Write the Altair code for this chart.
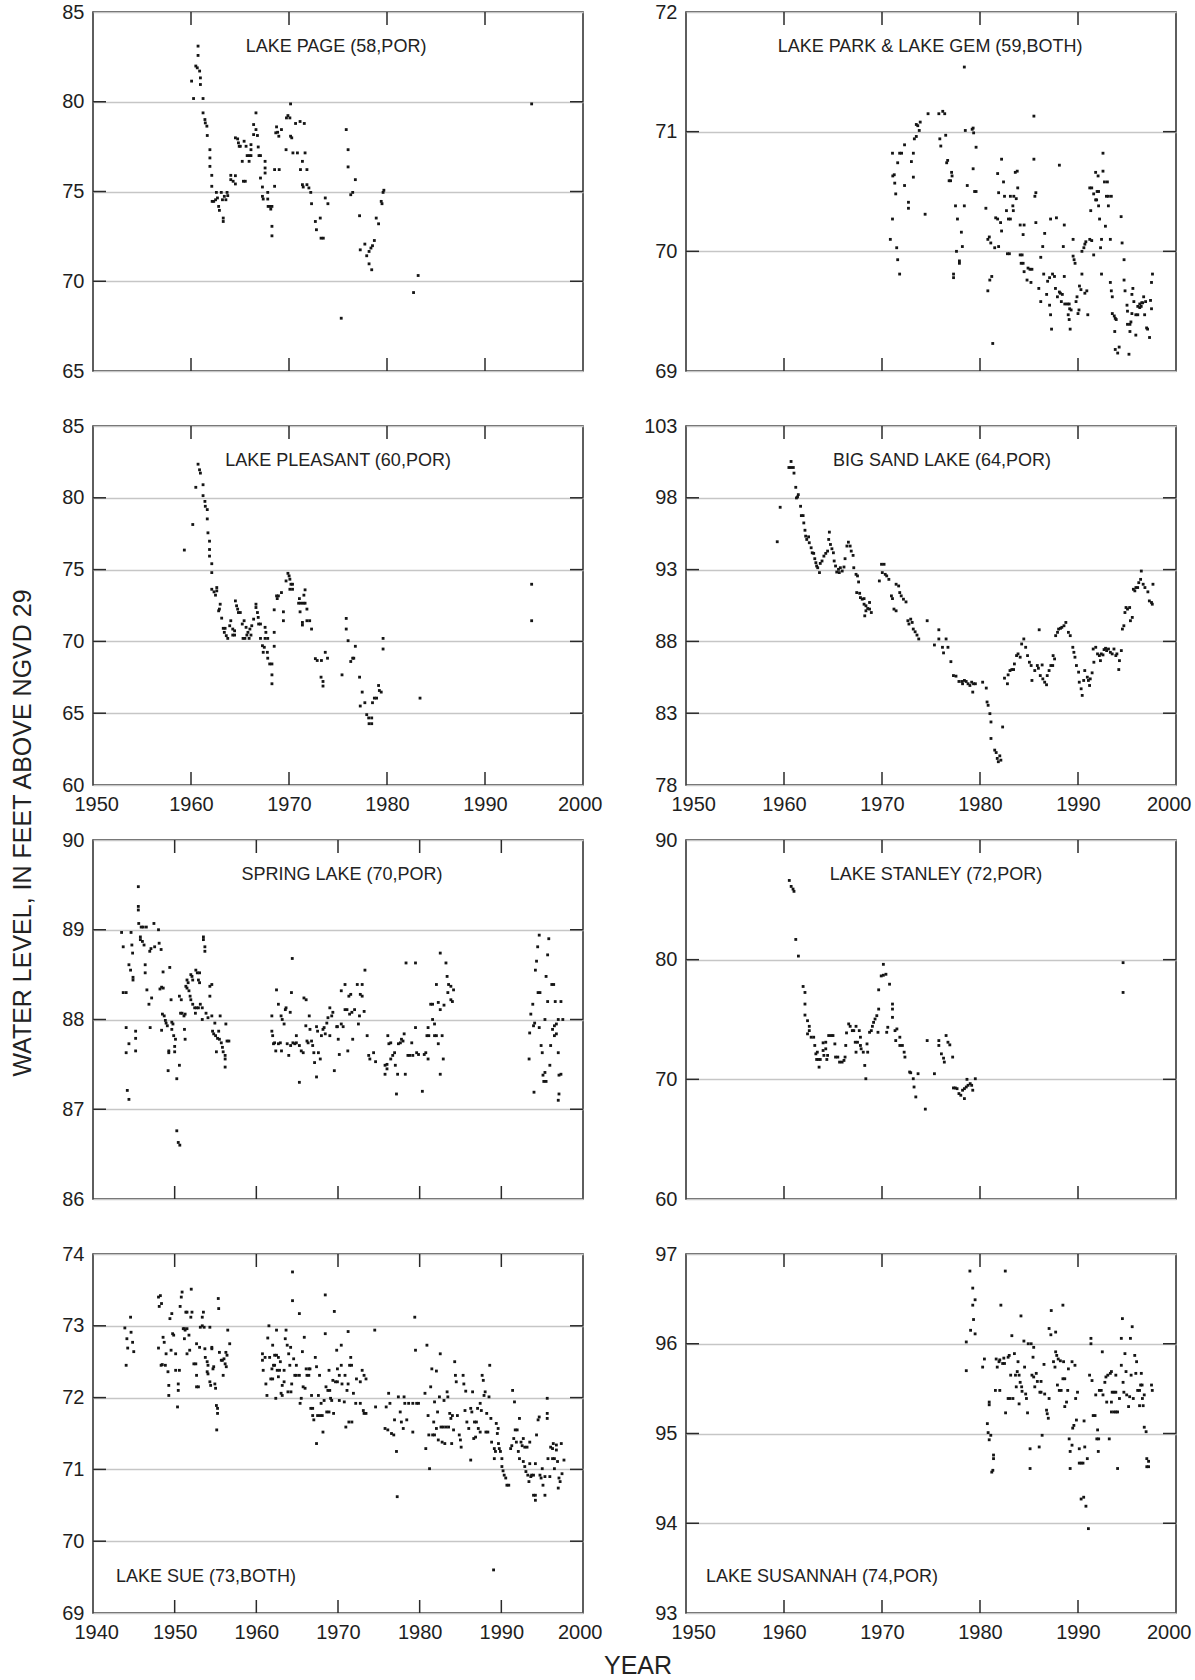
import altair as alt
import pandas as pd

FONT = "Liberation Sans, Arial, Helvetica, sans-serif"

# ---------------- data (year, water level in feet) ----------------
PAGE = [(1960.06,81.15),(1960.26,80.18),(1960.72,83.10),(1960.72,82.58),(1960.49,81.99),(1960.64,81.89),(1960.88,81.71),(1960.96,81.33),(1960.96,80.96),(1961.23,80.18),(1961.23,79.38),(1961.42,79.01),(1961.46,78.82),(1961.62,78.64),(1961.66,78.12),(1961.93,77.33),(1961.93,76.87),(1961.93,76.40),(1962.12,75.90),(1962.12,75.29),(1962.16,74.45),(1962.32,74.45),(1962.51,74.54),(1962.70,74.64),(1962.82,74.17),(1962.90,73.95),(1962.59,74.95),(1963.09,74.95),(1963.29,73.52),(1963.29,73.33),(1963.21,74.54),(1963.40,74.73),(1963.56,74.54),(1963.68,74.95),(1963.75,74.77),(1964.06,75.66),(1964.06,75.90),(1964.30,75.57),(1964.53,75.88),(1964.53,75.42),(1964.53,77.99),(1964.76,77.93),(1964.84,77.71),(1964.92,77.52),(1965.03,77.52),(1965.23,76.68),(1965.35,75.57),(1965.54,75.57),(1965.42,77.80),(1965.62,77.52),(1965.73,77.00),(1965.93,77.00),(1966.12,77.00),(1965.93,76.68),(1966.12,77.61),(1966.12,77.33),(1966.39,78.73),(1966.39,78.17),(1966.63,78.45),(1966.63,79.38),(1966.78,78.12),(1966.86,77.48),(1966.94,77.00),(1967.09,77.00),(1967.09,75.75),(1967.29,75.25),(1967.29,74.73),(1967.37,74.58),(1967.56,76.68),(1967.56,76.31),(1967.56,76.03),(1967.83,74.95),(1967.83,74.58),(1967.87,74.17),(1968.07,74.17),(1968.26,74.17),(1968.14,74.02),(1968.26,73.06),(1968.26,72.53),(1968.53,76.22),(1969.00,76.22),(1968.53,75.29),(1968.65,78.27),(1968.73,78.60),(1968.84,78.30),(1968.96,78.08),(1969.23,78.45),(1969.70,77.33),(1969.74,79.10),(1969.89,79.23),(1970.09,79.10),(1970.16,79.88),(1970.16,78.08),(1970.28,77.99),(1970.40,77.15),(1970.86,77.15),(1970.67,78.79),(1971.13,78.90),(1971.56,78.79),(1971.17,76.22),(1971.37,76.68),(1971.64,77.15),(1971.83,76.22),(1971.37,75.38),(1971.45,75.25),(1971.83,75.38),(1972.03,75.20),(1972.22,74.95),(1972.30,74.32),(1972.69,73.33),(1972.80,72.87),(1973.19,73.52),(1973.27,72.40),(1973.50,72.40),(1973.70,74.64),(1973.97,74.32),(1975.33,67.94),(1975.84,78.45),(1976.03,77.33),(1976.03,76.37),(1976.30,74.82),(1976.50,74.95),(1976.77,75.66),(1977.20,73.65),(1977.27,71.75),(1977.74,72.07),(1977.93,71.42),(1978.17,71.66),(1978.36,71.85),(1978.52,71.98),(1978.71,72.27),(1978.17,70.97),(1978.44,70.64),(1978.90,73.52),(1979.14,73.20),(1979.41,74.45),(1979.49,74.32),(1979.60,74.95),(1979.68,75.07),(1982.71,69.37),(1983.18,70.32),(1994.76,79.88)]

PARK = [(1970.85,70.10),(1971.07,70.27),(1971.07,70.82),(1971.1,70.63),(1971.25,70.64),(1971.3,70.57),(1971.4,70.48),(1971.6,70.74),(1971.5,70.03),(1971.6,69.93),(1971.8,69.81),(1971.8,70.82),(1972.0,70.82),(1972.3,70.55),(1972.3,70.89),(1972.7,70.41),(1972.7,70.36),(1973.0,70.75),(1973.2,70.82),(1973.2,70.62),(1973.3,70.94),(1973.5,70.96),(1973.5,71.06),(1973.65,71.05),(1973.8,71.01),(1973.9,71.08),(1974.4,70.31),(1974.7,71.15),(1975.8,71.15),(1975.9,70.94),(1976.0,70.88),(1976.2,71.17),(1976.4,71.15),(1976.5,70.97),(1976.6,70.74),(1976.7,70.76),(1976.85,70.59),(1977.0,70.59),(1977.1,70.66),(1977.15,70.63),(1977.3,69.81),(1977.3,69.78),(1977.5,70.38),(1977.6,70.00),(1977.7,70.27),(1977.9,69.92),(1977.9,69.90),(1978.1,70.16),(1978.2,70.04),(1978.4,71.54),(1978.4,70.38),(1978.5,71.01),(1978.7,70.55),(1979.2,71.02),(1979.3,71.03),(1979.35,70.99),(1979.3,70.69),(1979.45,70.50),(1979.6,70.50),(1979.6,70.87),(1980.6,70.36),(1980.8,70.10),(1980.95,70.12),(1981.1,70.07),(1980.8,69.67),(1981.0,69.76),(1981.2,69.79),(1981.3,69.23),(1981.5,70.03),(1981.6,70.28),(1981.8,70.27),(1981.8,70.65),(1981.9,70.49),(1981.9,70.04),(1982.1,70.24),(1982.2,70.77),(1982.2,70.17),(1982.4,70.58),(1982.5,70.46),(1982.7,70.34),(1982.8,69.98),(1983.0,69.98),(1982.9,70.27),(1983.1,70.27),(1983.1,70.46),(1983.35,70.38),(1983.4,70.34),(1983.45,70.46),(1983.6,70.66),(1983.8,70.67),(1983.7,70.44),(1983.85,70.53),(1984.1,69.97),(1984.3,69.97),(1984.1,70.22),(1984.5,70.22),(1984.2,69.90),(1984.4,69.90),(1984.4,70.14),(1984.5,69.83),(1984.8,69.76),(1984.9,69.86),(1985.1,69.85),(1985.3,69.85),(1985.2,69.74),(1985.5,70.77),(1985.5,71.13),(1985.6,70.46),(1985.7,70.49),(1985.7,70.24),(1986.0,69.69),(1986.2,69.95),(1986.2,69.58),(1986.4,70.04),(1986.5,69.81),(1986.6,70.15),(1986.8,69.64),(1986.9,69.75),(1987.1,69.78),(1987.1,69.55),(1987.2,69.47),(1987.2,70.27),(1987.3,69.35),(1987.4,69.81),(1987.6,69.79),(1987.7,69.69),(1987.8,70.28),(1987.9,69.62),(1988.1,69.66),(1988.1,70.72),(1988.2,69.65),(1988.4,69.64),(1988.3,69.58),(1988.5,70.04),(1988.6,69.79),(1988.6,70.22),(1988.65,69.56),(1988.9,69.56),(1989.1,69.56),(1989.15,69.52),(1989.0,69.47),(1989.1,69.43),(1989.2,69.35),(1989.3,69.51),(1989.5,70.10),(1989.5,69.96),(1989.6,69.93),(1989.7,69.90),(1989.8,69.58),(1989.9,69.62),(1990.0,69.48),(1990.1,69.51),(1990.15,69.71),(1990.3,69.68),(1990.4,69.81),(1990.4,70.00),(1990.6,70.03),(1990.7,70.06),(1990.8,70.08),(1990.7,69.65),(1990.9,69.67),(1991.0,69.47),(1991.2,70.10),(1991.4,70.09),(1991.2,70.53),(1991.4,70.53),(1991.3,70.34),(1991.6,69.97),(1991.6,70.48),(1991.8,70.43),(1991.9,70.43),(1991.8,70.66),(1992.05,70.63),(1991.95,70.50),(1992.1,70.50),(1992.1,70.38),(1992.2,70.27),(1992.3,70.03),(1992.4,70.10),(1992.4,69.81),(1992.55,70.82),(1992.55,70.67),(1992.7,70.58),(1993.0,70.58),(1992.8,70.21),(1992.9,70.46),(1993.1,70.46),(1993.1,70.38),(1993.3,70.10),(1993.4,70.46),(1993.3,69.74),(1993.4,69.67),(1993.5,69.62),(1993.5,69.48),(1993.7,69.46),(1993.8,69.44),(1993.9,69.43),(1993.75,69.33),(1993.8,69.18),(1994.05,69.15),(1994.2,69.20),(1994.4,70.29),(1994.5,70.07),(1994.7,69.93),(1994.7,69.76),(1994.8,69.67),(1995.0,69.55),(1995.05,69.50),(1995.05,69.39),(1995.3,69.39),(1995.2,69.14),(1995.3,69.33),(1995.4,69.41),(1995.5,69.64),(1995.5,69.48),(1995.6,69.69),(1995.7,69.58),(1995.9,69.47),(1996.1,69.47),(1995.9,69.30),(1996.1,69.54),(1996.3,69.56),(1996.5,69.57),(1996.6,69.57),(1996.3,69.53),(1996.45,69.54),(1996.7,69.62),(1996.8,69.47),(1996.9,69.58),(1997.0,69.36),(1997.1,69.35),(1997.3,69.28),(1997.4,69.59),(1997.5,69.52),(1997.5,69.74),(1997.6,69.81)]

PLEASANT = [(1959.32,76.36),(1960.18,78.14),(1960.49,80.73),(1960.72,82.34),(1960.87,81.95),(1960.96,81.72),(1961.23,80.91),(1961.23,80.15),(1961.42,79.75),(1961.46,79.41),(1961.66,79.18),(1961.66,78.53),(1961.73,77.56),(1961.89,76.98),(1961.89,76.40),(1961.89,75.94),(1962.12,75.41),(1962.12,74.79),(1962.12,73.63),(1962.35,73.45),(1962.50,73.22),(1962.63,73.75),(1962.63,73.52),(1962.82,72.13),(1962.90,72.25),(1962.98,72.59),(1963.13,71.62),(1963.29,70.91),(1963.48,70.91),(1963.40,70.63),(1963.60,70.40),(1963.75,70.21),(1963.95,71.09),(1964.06,71.44),(1964.26,70.86),(1964.26,70.44),(1964.45,70.44),(1964.45,70.74),(1964.53,72.82),(1964.65,72.48),(1964.76,72.25),(1964.84,72.01),(1965.03,72.01),(1965.23,71.21),(1965.31,70.21),(1965.50,70.21),(1965.42,71.44),(1965.62,70.98),(1965.70,70.44),(1965.81,70.63),(1965.93,70.21),(1966.01,70.86),(1966.12,70.44),(1966.20,71.09),(1966.39,71.55),(1966.63,72.59),(1966.63,72.36),(1966.78,72.01),(1966.86,71.67),(1966.90,71.21),(1967.09,71.21),(1967.09,70.21),(1967.29,69.70),(1967.37,69.24),(1967.48,69.59),(1967.56,70.98),(1967.56,70.21),(1967.83,70.21),(1967.64,70.63),(1967.79,69.24),(1967.83,68.83),(1968.03,68.43),(1968.26,68.43),(1968.26,67.67),(1968.26,67.05),(1968.49,72.20),(1968.49,70.63),(1968.49,69.66),(1968.73,73.17),(1968.92,73.17),(1968.80,72.98),(1969.23,73.40),(1969.43,72.06),(1969.43,71.44),(1969.70,74.21),(1969.89,74.74),(1970.01,74.56),(1970.09,74.33),(1970.09,73.63),(1970.36,73.63),(1970.20,73.98),(1970.36,73.98),(1970.98,72.66),(1971.21,72.66),(1971.45,72.66),(1971.64,72.66),(1971.06,72.98),(1971.13,72.06),(1971.37,71.32),(1971.37,71.14),(1971.52,73.22),(1971.64,73.59),(1971.83,72.25),(1971.83,71.44),(1972.11,71.44),(1972.30,70.86),(1972.69,68.80),(1972.88,68.67),(1973.31,68.67),(1973.27,67.51),(1973.47,67.21),(1973.47,66.89),(1973.70,69.24),(1973.93,68.83),(1975.41,67.67),(1975.84,71.60),(1975.84,70.86),(1976.03,70.05),(1976.30,68.60),(1976.50,68.83),(1976.61,68.83),(1976.77,69.66),(1977.20,67.51),(1977.27,65.50),(1977.47,66.47),(1977.74,65.73),(1977.93,64.90),(1978.13,64.67),(1978.44,64.67),(1978.17,64.27),(1978.44,64.27),(1978.52,65.73),(1978.71,66.05),(1978.94,66.05),(1979.14,66.93),(1979.22,66.58),(1979.41,66.47),(1979.60,70.21),(1979.60,69.47),(1983.37,66.05),(1994.76,73.98),(1994.76,71.44)]

BIGSAND = [(1959.31,94.94),(1959.61,97.34),(1960.5,100.11),(1960.7,100.11),(1960.95,100.11),(1960.72,100.53),(1961.02,99.72),(1961.2,98.73),(1961.27,97.99),(1961.38,98.06),(1961.46,98.22),(1961.69,97.41),(1961.77,96.76),(1961.95,96.76),(1962.02,96.25),(1962.14,95.74),(1962.21,95.33),(1962.32,95.10),(1962.51,95.28),(1962.58,94.87),(1962.77,94.52),(1962.88,94.17),(1963.03,94.13),(1963.14,93.76),(1963.25,93.48),(1963.33,93.25),(1963.44,93.13),(1963.62,92.79),(1963.70,93.43),(1963.88,93.60),(1964.07,93.94),(1964.26,94.13),(1964.45,94.29),(1964.56,95.10),(1964.63,95.61),(1964.74,94.75),(1964.89,94.45),(1965.04,94.17),(1965.12,93.60),(1965.26,93.25),(1965.38,92.83),(1965.56,93.02),(1965.64,92.79),(1965.75,93.13),(1965.94,92.90),(1966.12,93.18),(1966.23,93.76),(1966.42,94.64),(1966.57,94.91),(1966.75,94.64),(1966.86,94.29),(1967.05,93.99),(1967.12,93.13),(1967.35,92.67),(1967.50,92.56),(1967.61,92.14),(1967.42,91.40),(1967.72,91.35),(1967.80,91.05),(1967.98,90.94),(1968.17,90.98),(1968.17,90.59),(1968.36,90.48),(1968.36,90.13),(1968.54,90.29),(1968.24,89.78),(1968.73,90.71),(1968.73,90.25),(1968.91,90.01),(1969.73,92.21),(1969.95,93.37),(1970.21,93.37),(1970.03,92.79),(1970.33,92.67),(1970.48,92.56),(1970.70,92.32),(1970.96,91.17),(1971.07,90.98),(1971.22,90.25),(1971.44,90.13),(1971.44,91.98),(1971.70,91.86),(1971.81,91.40),(1971.96,91.17),(1972.19,90.94),(1972.45,90.75),(1972.64,89.44),(1972.75,89.21),(1972.93,89.55),(1973.08,89.32),(1973.19,88.86),(1973.38,88.67),(1973.57,88.44),(1973.75,88.17),(1974.61,89.44),(1975.35,87.75),(1975.80,88.81),(1975.80,88.17),(1976.17,87.59),(1976.28,87.20),(1976.54,88.17),(1976.73,87.59),(1977.03,86.59),(1977.29,85.62),(1977.55,85.58),(1977.85,85.21),(1978.14,85.21),(1978.22,85.05),(1978.41,85.28),(1978.59,85.21),(1978.78,85.05),(1978.97,84.93),(1979.15,85.16),(1979.26,84.47),(1979.34,85.05),(1979.53,85.05),(1980.27,85.16),(1980.64,84.75),(1980.72,83.78),(1980.83,83.55),(1981.01,82.97),(1981.12,82.39),(1981.12,81.24),(1981.50,80.43),(1981.65,80.26),(1981.76,79.85),(1981.87,79.62),(1982.02,80.03),(1982.13,79.73),(1982.31,82.04),(1982.50,85.44),(1982.80,85.05),(1982.87,85.67),(1983.06,85.97),(1983.25,86.04),(1983.43,86.04),(1983.51,86.43),(1983.73,87.01),(1983.88,87.13),(1984.10,86.90),(1984.25,87.82),(1984.47,88.17),(1984.66,87.59),(1984.85,87.01),(1985.04,86.55),(1985.22,86.32),(1985.30,85.28),(1985.59,85.97),(1985.85,86.32),(1985.96,86.13),(1986.04,88.81),(1986.15,85.62),(1986.34,86.36),(1986.41,85.39),(1986.60,85.16),(1986.79,84.98),(1986.86,85.62),(1987.05,85.97),(1987.23,86.32),(1987.42,86.32),(1987.46,87.01),(1987.61,86.78),(1987.72,88.40),(1987.91,88.63),(1988.02,88.86),(1988.21,88.91),(1988.35,88.98),(1988.57,89.09),(1988.76,89.32),(1989.02,88.63),(1989.21,88.40),(1989.47,87.59),(1989.58,87.24),(1989.69,86.90),(1989.84,86.32),(1990.06,85.86),(1990.13,85.16),(1990.32,84.70),(1990.43,84.24),(1990.58,85.28),(1990.69,85.97),(1990.95,85.51),(1991.06,85.28),(1991.18,84.93),(1991.25,85.39),(1991.44,85.81),(1991.62,86.55),(1991.55,87.47),(1991.81,87.59),(1991.99,87.13),(1992.18,87.01),(1992.29,86.66),(1992.37,87.13),(1992.55,87.06),(1992.66,87.43),(1992.81,87.52),(1992.92,87.36),(1993.11,87.47),(1993.30,87.24),(1993.49,87.13),(1993.67,87.47),(1993.86,87.01),(1993.97,87.13),(1994.16,86.04),(1994.23,86.66),(1994.42,87.36),(1994.53,88.86),(1994.68,89.09),(1994.79,90.01),(1994.90,90.36),(1995.05,90.25),(1995.27,90.36),(1995.35,89.44),(1995.54,89.67),(1995.65,91.63),(1995.80,91.52),(1995.91,91.75),(1996.09,91.75),(1996.20,92.09),(1996.39,92.32),(1996.46,92.90),(1996.65,91.98),(1996.83,91.75),(1997.13,91.45),(1997.28,90.82),(1997.50,90.71),(1997.58,90.59),(1997.65,91.98)]

SPRING = [(1943.5,88.97),(1943.7,88.81),(1943.7,88.30),(1944.06,88.30),(1944.06,87.91),(1944.06,87.63),(1944.2,87.21),(1944.4,87.11),(1944.4,87.73),(1944.4,88.61),(1944.6,88.55),(1944.66,88.97),(1944.76,88.83),(1944.85,88.74),(1944.9,88.47),(1944.9,88.44),(1945.22,87.87),(1945.22,87.79),(1945.22,87.65),(1945.55,89.48),(1945.55,89.26),(1945.55,89.22),(1945.6,89.07),(1945.8,88.92),(1945.8,88.89),(1945.9,89.03),(1946.15,89.03),(1946.53,89.03),(1946.05,88.87),(1946.25,88.83),(1946.39,88.52),(1946.39,88.61),(1946.6,88.33),(1946.95,88.76),(1947.1,88.79),(1946.85,88.17),(1947.0,87.91),(1947.18,88.24),(1947.46,89.07),(1947.55,88.81),(1948.02,89.00),(1948.1,88.85),(1948.34,88.78),(1948.2,88.34),(1948.4,88.36),(1948.6,88.35),(1948.5,88.06),(1948.72,88.04),(1948.58,88.53),(1948.4,87.88),(1948.86,87.99),(1948.95,87.96),(1949.1,87.93),(1949.28,87.65),(1949.28,87.63),(1949.2,87.43),(1949.4,88.58),(1949.56,88.22),(1949.65,87.89),(1949.65,87.97),(1949.79,87.95),(1949.88,87.82),(1950.0,87.70),(1950.0,87.64),(1950.1,87.78),(1950.26,87.34),(1950.26,86.76),(1950.44,86.63),(1950.63,86.60),(1950.58,88.26),(1950.81,88.22),(1950.72,88.07),(1950.9,88.07),(1950.58,87.49),(1951.14,88.04),(1951.28,88.06),(1951.2,87.89),(1951.28,87.78),(1951.37,88.37),(1951.51,88.35),(1951.51,88.44),(1951.65,88.41),(1951.75,88.32),(1951.89,88.26),(1951.98,88.22),(1952.12,88.48),(1952.21,88.44),(1951.98,88.50),(1952.21,88.17),(1952.45,88.13),(1952.54,88.07),(1952.68,88.13),(1952.91,88.13),(1952.59,88.55),(1952.77,88.52),(1953.05,88.52),(1952.91,88.44),(1953.05,88.41),(1953.14,88.17),(1953.38,88.13),(1953.38,88.00),(1953.52,88.92),(1953.52,88.89),(1953.7,88.81),(1953.7,88.76),(1953.84,88.07),(1954.08,88.02),(1954.31,88.26),(1954.31,88.37),(1954.55,88.39),(1954.55,88.04),(1954.64,87.87),(1954.78,87.84),(1955.01,87.82),(1955.25,87.79),(1954.92,87.96),(1955.11,87.64),(1955.39,87.87),(1955.48,87.78),(1955.57,88.04),(1955.71,87.74),(1955.85,87.69),(1955.94,87.64),(1956.18,87.60),(1956.18,87.47),(1956.18,87.56),(1956.41,87.76),(1956.64,87.76),(1956.27,87.95),
          (1961.9,88.04),(1961.9,87.87),(1962.0,87.82),(1962.1,87.73),(1962.24,87.74),(1962.47,88.33),(1962.38,87.65),(1962.7,88.17),(1962.7,87.73),(1962.94,87.74),(1963.03,88.04),(1963.17,88.00),(1963.08,87.65),(1963.4,87.95),(1963.55,88.11),(1963.64,88.13),(1963.78,87.73),(1963.97,87.60),(1964.2,87.71),(1964.15,88.08),(1964.3,88.30),(1964.4,88.68),(1964.48,87.74),(1964.71,87.73),(1964.9,87.74),(1964.9,87.82),(1965.27,87.30),(1965.27,87.71),(1965.5,87.65),(1965.74,87.63),(1965.83,88.24),(1966.1,88.22),(1966.06,87.93),(1966.2,87.76),(1966.34,87.74),(1966.48,88.04),(1966.57,87.89),(1966.76,87.76),(1966.9,87.71),(1967.04,87.63),(1967.13,87.52),(1967.37,87.92),(1967.5,87.87),(1967.37,87.36),(1967.6,87.63),(1967.83,87.56),(1967.97,87.82),(1968.16,87.89),(1968.44,87.84),(1968.3,87.91),(1968.63,87.96),(1968.77,88.02),(1969.0,88.13),(1969.0,87.82),(1969.23,88.04),(1969.37,88.08),(1969.55,87.43),(1969.84,87.92),(1969.93,87.92),(1970.03,87.78),(1970.16,87.61),(1970.4,88.32),(1970.4,87.95),(1970.63,87.92),(1970.86,88.39),(1970.86,88.11),(1971.1,88.11),(1971.2,87.65),(1971.33,88.26),(1971.56,88.28),(1971.42,88.06),(1971.7,88.08),(1971.8,87.78),(1972.03,88.11),(1972.36,88.39),(1972.96,88.39),(1972.5,87.95),(1972.63,88.04),(1972.73,88.28),(1972.96,88.26),(1973.2,88.09),(1973.3,88.55),(1973.57,87.82),(1973.76,87.60),(1973.9,87.56),(1974.36,87.63),(1974.6,87.53),
          (1975.76,87.49),(1976.0,87.50),(1975.76,87.39),(1976.0,87.45),(1976.1,87.82),(1976.23,87.73),(1976.46,87.74),(1976.46,87.56),(1976.7,87.60),(1976.93,87.63),(1977.02,87.49),(1977.16,87.17),(1977.3,87.39),(1977.4,87.73),(1977.64,87.74),(1977.77,87.78),(1977.96,87.76),(1978.1,87.84),(1978.24,87.39),(1978.33,88.63),(1978.56,87.60),(1978.79,87.60),(1979.03,87.74),(1979.16,87.60),(1979.49,88.63),(1979.49,87.91),(1979.63,87.63),(1979.86,87.61),(1980.33,87.20),(1980.56,87.61),(1980.75,87.63),(1981.03,87.56),(1980.89,87.82),(1981.12,87.82),(1981.03,87.91),(1981.35,88.17),(1981.58,88.17),(1981.58,88.00),(1981.82,87.95),(1981.82,87.82),(1982.05,87.82),(1982.05,88.39),(1982.28,87.73),(1982.28,88.19),(1982.52,88.11),(1982.52,88.74),(1982.52,87.39),(1982.75,87.82),(1982.89,87.56),(1982.98,88.16),(1983.22,88.63),(1983.36,88.48),(1983.45,88.30),(1983.54,88.39),(1983.82,88.37),(1983.82,88.22),(1984.01,88.20),(1984.15,88.33),
          (1993.40,87.56),(1993.47,87.85),(1993.61,88.06),(1993.85,88.17),(1993.94,87.93),(1994.08,87.96),(1994.0,87.19),(1994.17,88.55),(1994.31,88.65),(1994.45,88.81),(1994.64,88.94),(1994.5,88.30),(1994.73,88.30),(1994.64,87.91),(1994.87,87.71),(1995.01,87.63),(1995.1,87.38),(1995.34,87.41),(1995.2,87.31),(1995.48,87.31),(1995.34,88.00),(1995.48,88.48),(1995.67,88.72),(1995.81,88.90),(1995.67,88.20),(1995.94,87.49),(1996.04,87.71),(1996.18,88.39),(1996.41,88.39),(1996.27,87.89),(1996.5,87.93),(1996.5,87.82),(1996.6,88.20),(1996.74,87.95),(1996.97,88.00),(1996.74,87.84),(1996.97,87.63),(1997.06,87.17),(1996.97,87.10),(1997.06,87.38),(1997.3,87.39),(1997.3,88.20),(1997.53,88.00)]

STANLEY = [(1960.54,86.62),(1960.73,86.12),(1960.92,85.90),(1961.02,85.71),(1961.20,81.69),(1961.47,80.30),(1961.95,77.76),(1962.14,77.26),(1962.14,76.29),(1962.14,75.37),(1962.40,74.90),(1962.58,74.43),(1962.58,74.07),(1962.40,73.80),(1962.77,73.52),(1963.03,73.52),(1963.14,72.83),(1963.25,72.13),(1963.40,72.27),(1963.33,71.66),(1963.51,71.66),(1963.70,71.66),(1963.58,71.02),(1963.99,73.05),(1964.26,73.10),(1963.99,72.41),(1964.26,72.55),(1964.07,72.00),(1964.45,72.00),(1964.37,71.66),(1964.56,73.66),(1964.82,73.66),(1965.00,73.66),(1965.19,72.96),(1965.26,71.86),(1965.49,71.86),(1965.67,71.44),(1965.93,71.44),(1966.12,71.58),(1966.23,71.86),(1966.30,72.83),(1966.38,73.88),(1966.60,74.63),(1966.75,74.43),(1966.97,74.07),(1967.12,74.07),(1967.35,74.43),(1967.27,73.10),(1967.50,73.10),(1967.35,72.27),(1967.68,74.07),(1967.80,73.52),(1967.80,72.83),(1967.87,72.55),(1968.09,72.27),(1968.54,72.27),(1968.24,71.16),(1968.35,70.05),(1968.47,72.96),(1968.73,73.93),(1968.91,74.07),(1969.02,74.43),(1969.14,74.76),(1969.29,75.04),(1969.47,75.32),(1969.59,73.93),(1969.66,75.87),(1969.66,77.48),(1969.92,78.64),(1970.14,78.70),(1970.40,78.78),(1970.14,79.61),(1970.48,73.93),(1970.59,74.35),(1970.77,77.95),(1971.07,76.29),(1971.07,75.87),(1971.07,75.18),(1971.33,74.07),(1971.52,74.21),(1971.40,73.24),(1971.82,73.52),(1971.82,72.83),(1972.08,72.83),(1972.26,72.27),(1972.34,71.86),(1972.82,70.61),(1972.93,70.55),(1973.19,70.05),(1973.27,69.36),(1973.45,68.53),(1973.68,70.47),(1974.42,67.51),(1974.61,73.24),(1975.35,70.47),(1975.80,73.24),(1975.80,72.83),(1976.06,72.13),(1976.28,71.77),(1976.36,71.44),(1976.54,73.66),(1976.73,73.10),(1976.92,72.88),(1977.21,71.86),(1977.29,69.28),(1977.48,69.28),(1977.66,69.22),(1977.85,68.81),(1978.04,68.67),(1978.22,69.09),(1978.41,69.22),(1978.41,68.39),(1978.60,69.36),(1978.78,69.50),(1978.67,70.00),(1979.00,69.64),(1979.15,69.50),(1979.26,69.09),(1979.52,70.05),(1994.60,79.75),(1994.60,77.26)]

SUE = [(1943.9,72.97),(1944.06,72.45),(1944.15,72.82),(1944.25,72.69),(1944.6,73.12),(1944.66,72.91),(1944.85,72.77),(1944.99,72.64),(1948.02,73.40),(1948.25,73.42),(1948.11,73.27),(1948.39,73.31),(1948.02,72.69),(1948.34,72.45),(1948.48,72.46),(1948.58,72.84),(1948.72,72.77),(1948.86,72.45),(1948.95,72.61),(1949.18,72.36),(1949.28,72.17),(1949.28,72.03),(1949.42,73.10),(1949.56,72.66),(1949.65,73.17),(1949.75,72.89),(1949.88,72.87),(1950.12,72.61),(1950.12,72.38),(1950.35,71.87),(1950.44,72.19),(1950.44,72.10),(1950.58,72.38),(1950.67,73.27),(1950.81,73.40),(1950.91,73.47),(1951.05,72.96),(1951.19,72.96),(1951.19,72.82),(1951.28,72.94),(1951.51,72.96),(1951.37,73.19),(1951.51,73.19),(1951.51,72.61),(1951.75,72.87),(1951.84,72.66),(1951.98,73.12),(1952.12,73.19),(1952.03,73.51),(1952.35,72.47),(1952.59,72.47),(1952.68,72.75),(1952.68,72.15),(1952.91,72.15),(1952.68,72.31),(1953.05,72.70),(1953.14,72.98),(1953.38,73.00),(1953.61,72.98),(1953.38,73.12),(1953.52,73.19),(1953.70,72.68),(1953.75,72.56),(1953.98,72.50),(1954.08,72.45),(1953.98,72.36),(1954.08,72.33),(1954.31,72.98),(1954.31,72.22),(1954.41,72.17),(1954.55,72.68),(1954.55,72.70),(1954.69,72.40),(1954.78,72.43),(1954.92,72.19),(1955.01,72.13),(1955.11,71.89),(1955.25,71.85),(1955.25,71.78),(1955.15,71.55),(1955.34,73.38),(1955.39,73.24),(1955.48,72.63),(1955.71,72.52),(1955.85,72.52),(1956.04,72.54),(1955.94,72.31),(1956.18,72.47),(1956.27,72.63),(1956.41,72.59),(1956.32,72.43),(1956.50,72.94),(1956.74,72.75),
       (1960.75,72.61),(1960.75,72.52),(1960.84,72.38),(1961.07,72.56),(1961.17,72.19),(1961.30,72.03),(1961.40,72.83),(1961.54,73.00),(1961.63,72.56),(1961.77,72.26),(1962.00,72.26),(1961.91,72.40),(1962.10,72.45),(1962.24,72.45),(1962.00,72.73),(1962.24,72.59),(1962.47,72.59),(1962.38,71.99),(1962.47,72.94),(1962.56,72.38),(1962.84,72.38),(1962.70,72.56),(1962.70,72.29),(1962.94,72.50),(1963.03,72.06),(1963.17,72.03),(1963.17,72.17),(1963.40,72.38),(1963.40,72.22),(1963.54,72.82),(1963.64,72.94),(1963.78,72.73),(1963.87,72.08),(1963.96,72.61),(1964.10,72.45),(1964.20,72.70),(1964.24,72.08),(1964.33,72.19),(1964.43,73.75),(1964.43,73.35),(1964.57,72.54),(1964.71,72.31),(1964.90,72.31),(1965.27,72.31),(1964.90,72.45),(1965.27,73.17),(1965.36,71.92),(1965.50,71.99),(1965.64,72.64),(1965.73,72.15),(1965.97,72.13),(1965.87,72.84),(1966.10,72.40),(1966.20,72.31),(1966.43,72.31),(1966.43,72.40),(1966.57,72.40),(1966.67,71.85),(1966.90,71.85),(1966.76,72.03),(1966.90,71.75),(1967.04,71.69),(1967.22,72.56),(1967.37,72.43),(1967.37,71.36),(1967.50,71.75),(1967.60,72.03),(1967.74,72.31),(1967.83,71.75),(1968.07,71.75),(1967.93,71.92),(1968.16,71.52),(1968.30,71.96),(1968.44,72.89),(1968.44,73.43),(1968.53,72.15),(1968.62,71.80),(1968.90,71.80),(1968.76,72.10),(1968.99,72.10),(1968.90,72.38),(1969.09,71.99),(1969.23,71.96),(1969.37,72.24),(1969.46,71.78),(1969.55,73.20),(1969.69,72.22),(1969.93,72.22),(1969.84,72.66),(1969.93,72.40),(1970.16,71.96),(1970.16,72.31),(1970.40,72.73),(1970.40,72.45),(1970.49,72.19),(1970.77,71.94),(1970.86,72.31),(1970.96,71.59),(1971.10,72.10),(1971.24,72.92),(1971.24,72.19),(1971.33,71.66),(1971.42,72.45),(1971.66,72.45),(1971.56,72.56),(1971.70,71.66),(1971.89,72.06),(1972.17,71.92),(1972.73,71.92),(1972.26,72.26),(1972.73,72.22),(1972.96,72.38),(1973.19,72.31),(1973.19,71.78),(1973.43,71.78),(1973.10,71.82),(1973.43,72.26),(1974.50,72.94),(1974.60,71.87),
       (1975.76,71.57),(1975.90,71.87),(1976.10,71.55),(1976.20,72.06),(1976.36,71.92),(1976.55,71.50),(1976.83,71.48),(1976.92,71.69),(1977.16,71.25),(1977.25,70.62),(1977.39,72.01),(1977.62,71.80),(1977.76,71.66),(1977.99,71.57),(1978.09,72.01),(1978.18,71.92),(1978.42,71.69),(1978.65,71.92),(1979.16,71.52),(1979.16,71.92),(1979.40,73.12),(1979.49,72.66),(1979.63,71.92),(1979.86,71.92),(1980.65,72.06),(1980.75,71.29),(1980.89,72.73),(1981.03,71.75),(1981.12,71.48),(1981.21,71.01),(1981.35,72.15),(1981.49,72.40),(1981.59,71.48),(1981.82,71.48),(1981.72,71.66),(1981.82,71.94),(1982.05,72.37),(1982.05,71.57),(1982.19,71.80),(1982.28,71.41),(1982.42,72.01),(1982.52,72.61),(1982.61,71.59),(1982.89,71.59),(1983.22,71.59),(1983.54,71.59),(1982.75,71.38),(1982.98,71.96),(1983.08,71.36),(1983.36,72.08),(1983.45,72.01),(1983.68,71.78),(1983.82,71.71),(1983.92,71.36),(1984.01,71.75),(1984.15,71.55),(1984.29,72.50),(1984.38,72.31),(1984.48,72.22),(1984.62,71.75),(1984.85,71.48),(1984.99,71.41),(1985.08,71.31),(1985.32,72.31),(1985.41,72.19),(1985.55,71.82),(1985.64,72.09),(1985.78,71.66),(1986.01,71.57),(1986.25,71.13),(1986.25,71.85),(1986.39,71.80),(1986.48,72.08),(1986.62,71.43),(1986.71,71.66),(1986.95,71.66),(1986.85,71.45),(1987.09,71.85),(1987.18,71.57),(1987.41,71.52),(1987.41,71.92),(1987.65,72.31),(1987.79,72.24),(1987.55,71.82),(1987.88,72.03),(1988.02,72.08),(1988.11,71.52),(1988.21,71.78),(1988.35,71.52),(1988.49,72.01),(1988.58,72.45),(1988.72,71.71),(1988.81,71.38),(1989.05,69.60),
       (1989.14,71.29),(1989.28,71.25),(1989.14,71.15),(1989.38,71.64),(1989.51,71.50),(1989.61,71.57),(1989.65,71.36),(1989.75,71.29),(1989.89,71.25),(1990.07,71.15),(1990.07,71.04),(1990.21,70.98),(1990.35,70.92),(1990.54,70.88),(1990.68,70.78),(1990.91,70.78),(1991.14,71.29),(1991.28,71.33),(1991.38,72.10),(1991.52,71.43),(1991.61,71.94),(1991.70,71.55),(1991.94,71.55),(1991.84,71.38),(1992.08,71.25),(1992.22,71.15),(1992.22,71.71),(1992.41,71.38),(1992.55,71.33),(1992.69,71.43),(1992.69,71.11),(1992.87,71.31),(1993.15,71.31),(1992.87,71.04),(1993.01,70.97),(1993.24,70.92),(1993.38,70.83),(1993.48,71.38),(1993.48,71.08),(1993.61,70.90),(1993.71,70.92),(1993.94,70.92),(1993.94,70.64),(1994.17,70.64),(1994.17,70.57),(1994.17,71.08),(1994.31,71.48),(1994.50,71.69),(1994.64,71.73),(1994.73,70.92),(1994.87,70.88),(1995.01,71.01),(1995.10,70.78),(1995.34,70.64),(1995.34,70.90),(1995.62,71.78),(1995.62,71.71),(1995.62,71.99),(1995.71,71.15),(1995.94,70.90),(1996.04,71.31),(1996.27,71.29),(1996.27,71.15),(1996.50,71.15),(1996.36,71.36),(1996.50,71.01),(1996.74,71.34),(1996.74,71.27),(1996.88,71.11),(1996.97,70.74),(1997.06,70.88),(1997.20,70.83),(1997.34,71.36),(1997.43,70.94),(1997.67,71.13)]

SUSANNAH = [(1978.6,95.70),(1978.6,96.02),(1978.97,96.81),(1979.04,96.15),(1979.26,96.62),(1979.26,96.43),(1979.34,96.27),(1979.5,96.49),(1979.5,96.11),(1980.27,95.74),(1980.45,95.83),(1980.75,95.11),(1980.83,95.01),(1980.94,94.93),(1980.94,95.35),(1980.94,95.32),(1981.1,94.98),(1981.2,94.57),(1981.31,94.59),(1981.38,94.76),(1981.38,94.72),(1981.57,95.48),(1981.65,95.83),(1981.76,95.74),(1981.94,95.80),(1982.02,95.82),(1982.02,95.48),(1982.13,96.43),(1982.31,95.78),(1982.5,95.78),(1982.43,95.84),(1982.58,96.81),(1982.61,95.23),(1982.87,95.85),(1982.98,95.87),(1982.87,95.39),(1983.06,95.39),(1983.13,95.65),(1983.25,96.09),(1983.36,95.39),(1983.51,95.89),(1983.62,95.65),(1983.8,95.69),(1983.7,95.52),(1983.88,95.80),(1983.99,95.33),(1983.99,95.65),(1984.1,95.57),(1984.25,95.52),(1984.18,96.31),(1984.29,95.47),(1984.48,96.03),(1984.55,95.74),(1984.66,95.44),(1984.74,95.39),(1984.85,95.23),(1984.92,96.00),(1985.11,94.83),(1985.11,94.61),(1985.22,96.00),(1985.3,95.65),(1985.41,95.85),(1985.48,95.96),(1985.48,95.63),(1985.59,95.52),(1985.74,95.67),(1985.85,95.58),(1986.04,94.85),(1986.11,95.46),(1986.23,95.46),(1986.23,95.58),(1986.34,94.98),(1986.53,95.77),(1986.6,95.44),(1986.79,95.26),(1986.86,95.22),(1986.97,95.17),(1987.05,95.39),(1987.05,96.17),(1987.23,96.10),(1987.27,96.37),(1987.5,95.80),(1987.65,95.74),(1987.72,96.13),(1987.72,95.91),(1987.83,95.87),(1987.98,95.83),(1987.9,95.54),(1988.09,95.48),(1988.28,95.48),(1988.2,95.81),(1988.46,95.61),(1988.65,95.61),(1988.46,96.43),(1988.53,95.80),(1988.65,95.30),(1988.83,95.35),(1988.95,95.48),(1989.02,95.72),(1989.1,94.94),(1989.2,94.80),(1989.2,94.61),(1989.39,95.80),(1989.39,94.87),(1989.46,95.06),(1989.58,95.09),(1989.69,95.76),(1989.76,95.39),(1989.84,95.15),(1989.95,95.46),(1990.13,94.67),(1990.32,94.67),(1990.51,94.67),(1990.13,94.83),(1990.32,94.27),(1990.58,94.29),(1990.62,95.14),(1990.69,94.85),(1990.81,94.19),(1990.95,94.72),(1991.06,93.94),(1991.18,95.65),(1991.32,96.00),(1991.32,96.06),(1991.43,95.59),(1991.55,95.20),(1991.74,95.20),(1991.81,95.43),(1991.92,94.94),(1992.11,94.94),(1992.0,95.04),(1992.07,94.80),(1992.18,95.48),(1992.37,95.48),(1992.48,95.91),(1992.55,95.43),(1992.74,95.57),(1992.85,95.63),(1992.93,95.35),(1993.04,95.65),(1993.19,94.94),(1993.3,95.67),(1993.41,95.69),(1993.41,95.35),(1993.49,95.46),(1993.67,95.46),(1993.86,95.46),(1993.41,95.24),(1993.67,95.24),(1993.86,95.24),(1994.04,95.24),(1993.86,95.65),(1994.04,94.61),(1994.23,95.39),(1994.42,96.06),(1994.42,95.76),(1994.53,96.28),(1994.6,95.57),(1994.68,95.46),(1994.79,95.89),(1994.9,95.69),(1994.97,95.43),(1995.16,95.30),(1995.27,95.41),(1995.35,96.06),(1995.42,95.65),(1995.53,96.19),(1995.64,95.39),(1995.79,95.87),(1995.9,95.67),(1995.98,95.80),(1996.09,95.48),(1996.28,95.48),(1996.28,95.31),(1996.39,95.54),(1996.54,95.54),(1996.46,95.67),(1996.57,95.39),(1996.65,95.31),(1996.76,95.43),(1996.76,95.07),(1996.95,95.02),(1997.02,94.72),(1997.2,94.69),(1997.02,94.63),(1997.2,94.63),(1997.5,95.54),(1997.58,95.48)]

# panel names, axis ranges and tick values
NAMES = ["LAKE PAGE (58,POR)", "LAKE PARK & LAKE GEM (59,BOTH)",
         "LAKE PLEASANT (60,POR)", "BIG SAND LAKE (64,POR)",
         "SPRING LAKE (70,POR)", "LAKE STANLEY (72,POR)",
         "LAKE SUE (73,BOTH)", "LAKE SUSANNAH (74,POR)"]
SERIES = [PAGE, PARK, PLEASANT, BIGSAND, SPRING, STANLEY, SUE, SUSANNAH]
X_RANGES = [[1950, 2000], [1950, 2000], [1950, 2000], [1950, 2000],
            [1940, 2000], [1950, 2000], [1940, 2000], [1950, 2000]]
Y_TICKS = [[65, 70, 75, 80, 85], [69, 70, 71, 72],
           [60, 65, 70, 75, 80, 85], [78, 83, 88, 93, 98, 103],
           [86, 87, 88, 89, 90], [60, 70, 80, 90],
           [69, 70, 71, 72, 73, 74], [93, 94, 95, 96, 97]]
SHOW_X = [False, False, True, True, False, False, True, True]
X_TITLE = "YEAR"
Y_TITLE = "WATER LEVEL, IN FEET ABOVE NGVD 29"

# layout/styling (not data)
W, H = 490, 359
TICK = 13
LINE = "#2a2a2a"
TITLE_POS = [("c", 243), ("c", 244), ("c", 245), ("c", 256),
             ("c", 249), ("c", 250), ("l", 23), ("l", 20)]


def panel(i):
    df = pd.DataFrame(SERIES[i], columns=["year", "level"])
    xdom = X_RANGES[i]
    yt = Y_TICKS[i]
    xscale = alt.Scale(domain=xdom, nice=False, zero=False)
    yscale = alt.Scale(domain=[yt[0], yt[-1]], nice=False, zero=False)
    xvals = list(range(xdom[0], xdom[1] + 1, 10))
    flush_off = 19 if i % 2 == 0 else 15
    if SHOW_X[i]:
        xaxis = alt.Axis(values=xvals, format="d", grid=False, ticks=False,
                         tickSize=0, domain=False, labelFontSize=20,
                         labelFont=FONT, labelColor="#1e1e1e", labelPadding=9,
                         labelFlush=True, labelFlushOffset=flush_off,
                         labelOverlap=False, title=None)
    else:
        xaxis = None
    yaxis = alt.Axis(values=yt, format="d", grid=True, gridColor="#c6c6c6",
                     gridWidth=1.5, ticks=False, tickSize=0, domain=False,
                     labelFontSize=20, labelFont=FONT, labelColor="#1e1e1e",
                     labelPadding=9, labelFlush=False, labelOverlap=False,
                     title=None)

    X = alt.X("year:Q", scale=xscale, axis=xaxis)
    Y = alt.Y("level:Q", scale=yscale, axis=yaxis)

    pts = alt.Chart(df).mark_square(size=8, color="#151515", opacity=1).encode(
        x=X, y=Y)
    xt = pd.DataFrame({"year": xvals[1:-1]})
    ytd = pd.DataFrame({"level": yt[1:-1]})
    rule = dict(color=LINE, strokeWidth=1.5)
    top = alt.Chart(xt).mark_rule(**rule).encode(
        x=X, y=alt.value(0), y2=alt.value(TICK))
    bot = alt.Chart(xt).mark_rule(**rule).encode(
        x=X, y=alt.value(H - TICK), y2=alt.value(H))
    lft = alt.Chart(ytd).mark_rule(**rule).encode(
        y=Y, x=alt.value(0), x2=alt.value(TICK))
    rgt = alt.Chart(ytd).mark_rule(**rule).encode(
        y=Y, x=alt.value(W - TICK), x2=alt.value(W))

    kind, px = TITLE_POS[i]
    tdf = pd.DataFrame({"t": [NAMES[i]]})
    if kind == "c":
        txt = alt.Chart(tdf).mark_text(font=FONT, fontSize=18, color="#222",
                                       align="center", baseline="middle").encode(
            text="t:N", x=alt.value(px), y=alt.value(35))
    else:
        txt = alt.Chart(tdf).mark_text(font=FONT, fontSize=18, color="#222",
                                       align="left", baseline="middle").encode(
            text="t:N", x=alt.value(px), y=alt.value(H - 36))
    layers = [pts, top, bot, lft, rgt, txt]

    # shared axis titles, drawn as text beside the grid
    if i == 6:
        ydf = pd.DataFrame({"t": [X_TITLE]})
        layers.append(alt.Chart(ydf).mark_text(
            font=FONT, fontSize=25, color="#222", align="center",
            baseline="middle").encode(text="t:N", x=alt.value(545),
                                      y=alt.value(H + 53)))
    if i == 4:
        ydf = pd.DataFrame({"t": [Y_TITLE]})
        layers.append(alt.Chart(ydf).mark_text(
            font=FONT, fontSize=25, color="#222", align="center",
            baseline="middle", angle=270).encode(text="t:N", x=alt.value(-70),
                                                 y=alt.value(-7)))
    return alt.layer(*layers).properties(width=W, height=H)


P = [panel(i) for i in range(8)]
chart = alt.concat(*P, columns=2, spacing={"row": 55, "column": 103},
                   bounds="flush").properties(
    padding={"left": 10, "top": 1, "right": 2, "bottom": 0},
    background="white",
).configure_view(stroke=LINE, strokeWidth=1.5)

chart.save("out.html", embed_options={"renderer": "svg", "actions": False})
